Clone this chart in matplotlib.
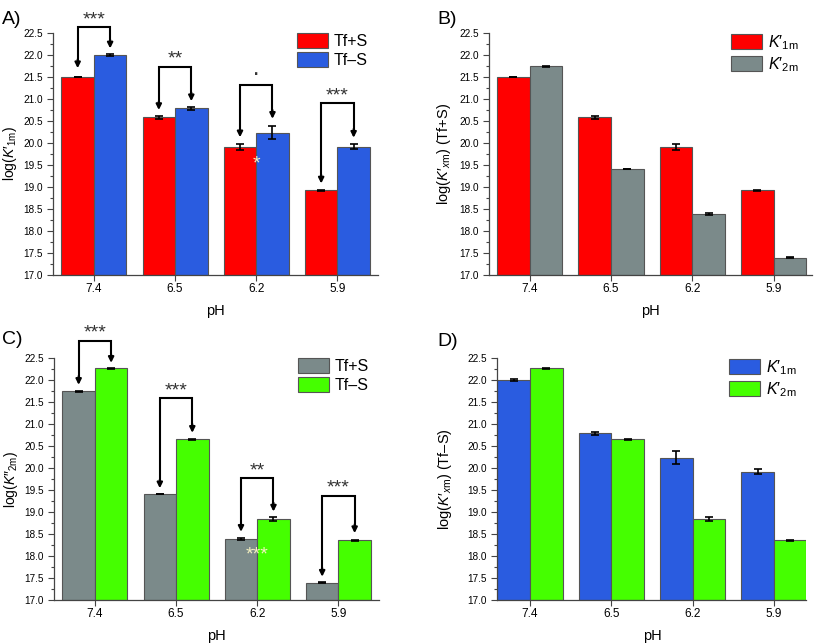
import numpy as np
import matplotlib
matplotlib.use('Agg')
import matplotlib.pyplot as plt

plt.rcParams['font.family'] = ['Liberation Sans', 'DejaVu Sans']
plt.rcParams['mathtext.fontset'] = 'custom'
plt.rcParams['mathtext.rm'] = 'Liberation Sans'
plt.rcParams['mathtext.it'] = 'Liberation Sans:italic'

ph = ['7.4', '6.5', '6.2', '5.9']

# log K'1m and log K'2m, with / without sulfate
k1_plus = [21.50, 20.58, 19.91, 18.93]
k1_plus_err = [0.01, 0.03, 0.06, 0.01]
k1_minus = [22.00, 20.79, 20.23, 19.92]
k1_minus_err = [0.02, 0.03, 0.15, 0.05]
k2_plus = [21.74, 19.41, 18.39, 17.39]
k2_plus_err = [0.01, 0.01, 0.03, 0.01]
k2_minus = [22.27, 20.65, 18.84, 18.36]
k2_minus_err = [0.01, 0.01, 0.05, 0.01]

# significance brackets: top, left arrow tip, right arrow tip, label
brk_a_top = [22.63, 21.73, 21.32, 20.90]
brk_a_left = [21.70, 20.75, 20.13, 19.08]
brk_a_right = [22.15, 20.95, 20.55, 20.12]
brk_a_lab = ['***', '**', '\u00b7', '***']
brk_c_top = [22.89, 21.58, 19.77, 19.37]
brk_c_left = [21.89, 19.54, 18.55, 17.53]
brk_c_right = [22.39, 20.80, 19.01, 18.52]
brk_c_lab = ['***', '***', '**', '***']

RED = '#ff0000'
BLUE = '#2a5ce0'
GRAY = '#7b8a8a'
GREEN = '#45ff00'

W, H = 817, 643

K1 = '$K$\u2032$_{\\mathrm{1m}}$'
K2 = '$K$\u2032$_{\\mathrm{2m}}$'


def make_axes(fig, left, top, right, bottom):
    return fig.add_axes([left / W, 1 - bottom / H, (right - left) / W, (bottom - top) / H])


def bars(ax, v1, e1, c1, v2, e2, c2, lab1, lab2, xlim):
    x = np.arange(len(ph))
    w = 0.4
    ekw = dict(elinewidth=1.2, capthick=1.2, ecolor='black')
    ax.bar(x - w / 2, np.array(v1) - 17, w, bottom=17, color=c1, edgecolor='#555555',
           lw=0.8, yerr=e1, capsize=3, error_kw=ekw, label=lab1)
    ax.bar(x + w / 2, np.array(v2) - 17, w, bottom=17, color=c2, edgecolor='#555555',
           lw=0.8, yerr=e2, capsize=3, error_kw=ekw, label=lab2)
    ax.set_xlim(*xlim)
    ax.set_ylim(17, 22.5)
    ax.set_yticks(np.arange(17, 22.51, 0.5))
    ax.set_yticks(np.arange(17.25, 22.5, 0.5), minor=True)
    ax.set_yticklabels(['%.1f' % v for v in np.arange(17, 22.51, 0.5)])
    ax.set_xticks(x)
    ax.set_xticklabels(ph, fontsize=8.5)
    ax.tick_params(axis='y', labelsize=7.2, length=4, width=0.8, color='#444444')
    ax.tick_params(axis='y', which='minor', length=2.5, width=0.8, color='#444444')
    ax.tick_params(axis='x', length=4, width=0.8, color='#444444', pad=2)
    for s in ['top', 'right']:
        ax.spines[s].set_visible(False)
    for s in ['left', 'bottom']:
        ax.spines[s].set_color('#444444')
        ax.spines[s].set_linewidth(0.9)
    ax.set_xlabel('pH', fontsize=10.5, labelpad=6)
    ax.legend(loc='upper left', bbox_to_anchor=(0.75, 1.0), frameon=False,
              fontsize=11.5, handlelength=1.95, handleheight=1.05,
              labelspacing=0.2, handletextpad=0.35, borderpad=0, borderaxespad=0)


def brackets(ax, top, left, right, labs):
    for i in range(len(ph)):
        xl, xr = i - 0.2, i + 0.2
        ax.plot([xl, xl, xr, xr], [left[i] + 0.1, top[i], top[i], right[i] + 0.1],
                color='black', lw=1.5, clip_on=False, solid_joinstyle='miter')
        for xx, tip in [(xl, left[i]), (xr, right[i])]:
            ax.annotate('', xy=(xx, tip), xytext=(xx, tip + 0.2),
                        arrowprops=dict(arrowstyle='-|>', color='black', lw=1.5,
                                        shrinkA=0, shrinkB=0, mutation_scale=8),
                        annotation_clip=False)
        fs = 18 if labs[i] == '\u00b7' else 14
        ax.text(i, top[i] - 0.02, labs[i], ha='center', va='bottom', fontsize=fs,
                color='#333333', clip_on=False)


fig = plt.figure(figsize=(W / 100, H / 100), dpi=100)

axA = make_axes(fig, 53.3, 33, 378, 275)
bars(axA, k1_plus, k1_plus_err, RED, k1_minus, k1_minus_err, BLUE, 'Tf+S', 'Tf\u2013S', (-0.5, 3.5))
brackets(axA, brk_a_top, brk_a_left, brk_a_right, brk_a_lab)
axA.text(2.0, 19.53, '*', color='#f4f0c0', ha='center', va='center', fontsize=14)
axA.set_ylabel('log(' + K1 + ')', fontsize=10, labelpad=3)

axB = make_axes(fig, 489, 33, 812, 275)
bars(axB, k1_plus, k1_plus_err, RED, k2_plus, k2_plus_err, GRAY, K1, K2, (-0.5, 3.47))
axB.set_ylabel('log($K$\u2032$_{x\\mathrm{m}}$) (Tf+S)', fontsize=10.5, labelpad=4)

axC = make_axes(fig, 54.3, 358, 379, 600)
bars(axC, k2_plus, k2_plus_err, GRAY, k2_minus, k2_minus_err, GREEN, 'Tf+S', 'Tf\u2013S', (-0.5, 3.5))
brackets(axC, brk_c_top, brk_c_left, brk_c_right, brk_c_lab)
axC.text(2.0, 18.02, '***', color='#f4f0c0', ha='center', va='center', fontsize=14)
axC.set_ylabel('log($K$\u2033$_{\\mathrm{2m}}$)', fontsize=10, labelpad=3)

axD = make_axes(fig, 497.5, 358, 806.5, 600)
bars(axD, k1_minus, k1_minus_err, BLUE, k2_minus, k2_minus_err, GREEN, K1, K2, (-0.4, 3.4))
axD.set_ylabel('log($K$\u2032$_{x\\mathrm{m}}$) (Tf\u2013S)', fontsize=10.5, labelpad=10)

for lab, (px, py) in zip(['A)', 'B)', 'C)', 'D)'], [(2, 19), (437, 20), (2, 340), (437, 341)]):
    fig.text(px / W, 1 - py / H, lab, fontsize=14, ha='left', va='center')

fig.savefig('out.png', dpi=100)
